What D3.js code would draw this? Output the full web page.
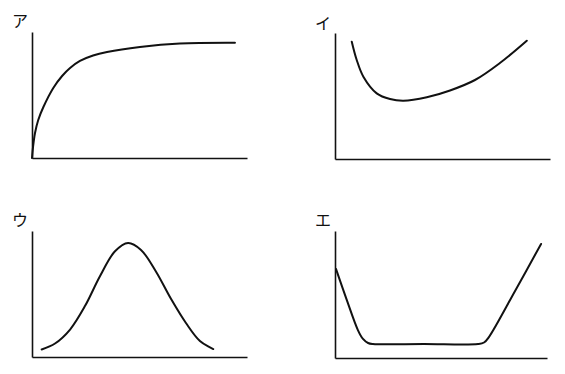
<!DOCTYPE html>
<html><head><meta charset="utf-8">
<script src="https://cdn.jsdelivr.net/npm/d3@7"></script>
<style>body{margin:0;background:#fff}svg{display:block}</style>
</head><body>
<svg id="c" width="565" height="374"></svg>
<script>
// Panel labels
const labels = ["ア", "イ", "ウ", "エ"];
// Series values (x, y) in arbitrary units 0–100 for each panel
const seriesA = [[0,0],[0.5,9],[1.4,19.8],[2.9,30.2],[5.3,40.5],[9.9,55.6],[14,65.1],[17.7,71.4],[22.3,77],[28.4,81.3],[34.9,84.1],[50.2,88.1],[68.8,90.9],[94.4,91.5]];
const seriesI = [[7.8,93.1],[10.1,78.6],[13.2,65.3],[19.4,52.1],[25.6,47.6],[31.8,46.3],[42.7,49],[53.5,54.4],[65.1,62.7],[76.7,76.2],[89.2,93.9]];
const seriesU = [[4.5,6],[10.7,10.7],[17.7,21.8],[24.7,40.6],[31.6,64.1],[38.6,83.9],[44.7,90.5],[50.7,85],[57.7,67.7],[64.7,46],[71.6,27],[78.1,12.7],[84.3,6.3]];
const seriesE = [[0.5,70],[5.5,46],[10.8,22],[13.2,15],[15.6,11.8],[17.9,11],[42,11],[67.5,11],[70.3,12.2],[72.6,16.5],[85,53],[97.2,89.8]];

const panels = [
  {label: labels[0], data: seriesA, x0: 32, x1: 247, y0: 158, y1: 32, lx: 12, ly: 27},
  {label: labels[1], data: seriesI, x0: 335, x1: 550, y0: 159, y1: 33, lx: 315, ly: 29},
  {label: labels[2], data: seriesU, x0: 32, x1: 247, y0: 357, y1: 231, lx: 12, ly: 226},
  {label: labels[3], data: seriesE, x0: 335, x1: 547, y0: 358, y1: 231, lx: 315, ly: 226}
];

const svg = d3.select("#c");
panels.forEach(p => {
  const x = d3.scaleLinear().domain([0,100]).range([p.x0, p.x1]);
  const y = d3.scaleLinear().domain([0,100]).range([p.y0, p.y1]);
  const g = svg.append("g");
  g.append("g").attr("transform", `translate(0,${p.y0})`)
    .call(d3.axisBottom(x).ticks(0).tickSize(0).tickFormat(""))
    .call(s => s.select(".domain").attr("stroke", "#111").attr("stroke-width", 1.6));
  g.append("g").attr("transform", `translate(${p.x0},0)`)
    .call(d3.axisLeft(y).ticks(0).tickSize(0).tickFormat(""))
    .call(s => s.select(".domain").attr("stroke", "#111").attr("stroke-width", 1.6));
  g.append("path").datum(p.data)
    .attr("fill", "none").attr("stroke", "#111").attr("stroke-width", 2)
    .attr("stroke-linejoin", "round").attr("stroke-linecap", "round")
    .attr("d", d3.line().x(d => x(d[0])).y(d => y(d[1])).curve(d3.curveCatmullRom.alpha(0.5)));
  g.append("text").attr("x", p.lx).attr("y", p.ly)
    .attr("font-family", "'Noto Sans CJK JP', sans-serif").attr("font-size", 16)
    .attr("fill", "#111").text(p.label);
});
</script>
</body></html>
